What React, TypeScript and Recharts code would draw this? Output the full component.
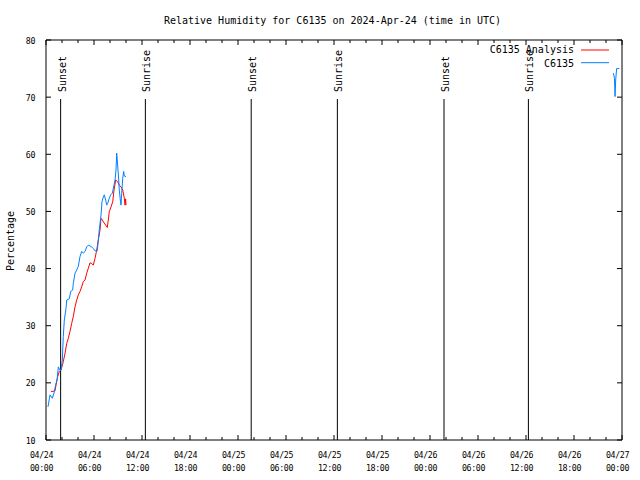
import React from 'react';
import { LineChart, Line, XAxis, YAxis, ReferenceLine, Legend } from 'recharts';

const FONT = '"DejaVu Sans Mono", monospace';

// Axis ticks
const xTickHours = [0, 2, 4, 6, 8, 10, 12, 14, 16, 18, 20, 22, 24, 26, 28, 30, 32, 34, 36, 38, 40, 42, 44, 46, 48, 50, 52, 54, 56, 58, 60, 62, 64, 66, 68, 70, 72];
const xLabelDates = ['04/24', '04/24', '04/24', '04/24', '04/25', '04/25', '04/25', '04/25', '04/26', '04/26', '04/26', '04/26', '04/27'];
const xLabelTimes = ['00:00', '06:00', '12:00', '18:00', '00:00', '06:00', '12:00', '18:00', '00:00', '06:00', '12:00', '18:00', '00:00'];
const yTicks = [10, 20, 30, 40, 50, 60, 70, 80];

// Sun events (hours since 04/24 00:00 UTC)
const sunsetHours = [1.83, 25.65, 49.75];
const sunriseHours = [12.42, 36.42, 60.3];

// C6135 Analysis (red)
const analysisHours = [0.63, 1.13, 1.25, 1.46, 1.66, 1.88, 2.16, 2.38, 2.59, 2.79, 3.0, 3.21, 3.41, 3.63, 3.84, 4.04, 4.25, 4.46, 4.66, 4.88, 5.09, 5.29, 5.5, 5.71, 5.91, 6.13, 6.34, 6.54, 6.75, 6.88, 7.04, 7.25, 7.46, 7.66, 7.79, 7.91, 8.13, 8.34, 8.5, 8.71, 8.96, 9.16, 9.38, 9.59, 9.79, 9.88, 9.95, 10.0];
const analysisValues = [18.45, 18.6, 19.6, 21.1, 22.0, 22.25, 23.7, 25.2, 26.9, 27.8, 29.0, 30.4, 31.6, 33.3, 34.5, 35.4, 36.0, 36.8, 37.7, 38.0, 39.2, 40.05, 41.0, 40.9, 40.6, 41.8, 43.25, 45.0, 46.75, 48.8, 48.5, 48.0, 47.6, 47.2, 48.5, 49.95, 50.8, 51.7, 53.75, 55.5, 55.2, 54.6, 54.3, 53.75, 52.3, 51.1, 52.2, 51.1];

// C6135 observations (blue), two segments
const obsEarlyHours = [0.25, 0.5, 0.79, 1.0, 1.2, 1.4, 1.54, 1.75, 1.88, 2.04, 2.16, 2.29, 2.5, 2.59, 2.91, 3.09, 3.34, 3.41, 3.63, 3.84, 4.04, 4.25, 4.46, 4.66, 4.88, 5.09, 5.29, 5.5, 5.71, 5.91, 6.13, 6.41, 6.54, 6.66, 6.88, 7.0, 7.16, 7.29, 7.46, 7.59, 7.71, 7.91, 8.09, 8.29, 8.5, 8.63, 8.75, 8.84, 8.91, 9.0, 9.09, 9.16, 9.29, 9.38, 9.46, 9.59, 9.71, 9.79, 10.0];
const obsEarlyValues = [15.8, 17.9, 17.3, 18.2, 19.6, 20.7, 22.8, 22.2, 22.2, 24.0, 28.1, 31.0, 33.0, 34.5, 34.7, 36.0, 36.25, 37.4, 39.2, 39.75, 40.4, 42.1, 43.0, 42.7, 43.0, 43.8, 44.1, 43.95, 43.8, 43.5, 43.1, 43.1, 45.0, 46.75, 49.4, 51.7, 52.5, 52.9, 52.0, 51.1, 51.4, 52.3, 52.9, 53.2, 54.6, 55.5, 57.25, 60.2, 59.0, 57.25, 55.5, 53.75, 52.0, 51.1, 53.2, 55.8, 57.0, 56.2, 56.1];
const obsLateHours = [70.92, 71.06, 71.13, 71.21, 71.33, 71.67];
const obsLateValues = [74.2, 73.3, 70.1, 73.0, 75.0, 75.0];

const analysisData = analysisHours.map((t, i) => ({ t, v: analysisValues[i] }));
const obsData = [
  ...obsEarlyHours.map((t, i) => ({ t, v: obsEarlyValues[i] as number | null })),
  { t: 40, v: null },
  ...obsLateHours.map((t, i) => ({ t, v: obsLateValues[i] as number | null })),
];

const TICK_FONT_SIZE = 8.3;
const TICK_SPACING = -0.4;

const BottomTick = (props: any) => {
  const { x, y, payload } = props;
  const v = payload.value as number;
  const major = v % 6 === 0;
  const i = Math.round(v / 6);
  return (
    <g>
      <line x1={x} x2={x} y1={y} y2={y - (major ? 5 : 3)} stroke="#000" strokeWidth={1} />
      {major && (
        <text textAnchor="middle" fontFamily={FONT} fontSize={TICK_FONT_SIZE} letterSpacing={TICK_SPACING} fill="#000">
          <tspan x={x - 4.5} y={y + 18}>{xLabelDates[i]}</tspan>
          <tspan x={x - 4.5} y={y + 31}>{xLabelTimes[i]}</tspan>
        </text>
      )}
    </g>
  );
};

const TopTick = (props: any) => {
  const { x, y, payload } = props;
  const major = (payload.value as number) % 6 === 0;
  return <line x1={x} x2={x} y1={y} y2={y + (major ? 5 : 3)} stroke="#000" strokeWidth={1} />;
};

const LeftTick = (props: any) => {
  const { x, y, payload } = props;
  return (
    <g>
      <line x1={x} x2={x + 5} y1={y} y2={y} stroke="#000" strokeWidth={1} />
      <text x={x - 11} y={y + 3.5} textAnchor="end" fontFamily={FONT} fontSize={TICK_FONT_SIZE} letterSpacing={TICK_SPACING} fill="#000">
        {payload.value}
      </text>
    </g>
  );
};

const RightTick = (props: any) => {
  const { x, y } = props;
  return <line x1={x} x2={x - 5} y1={y} y2={y} stroke="#000" strokeWidth={1} />;
};

const TitleLabel = () => (
  <text x={332.5} y={24} textAnchor="middle" fontFamily={FONT} fontSize={10} fill="#000">
    Relative Humidity for C6135 on 2024-Apr-24 (time in UTC)
  </text>
);

const YTitle = () => (
  <text x={14} y={241} transform="rotate(-90 14 241)" textAnchor="middle" fontFamily={FONT} fontSize={10} fill="#000">
    Percentage
  </text>
);

const sunLabel = (text: string) => (props: any) => {
  const vb = props && props.viewBox;
  if (!vb) return null;
  const x = vb.x + 5;
  const y = vb.y - 7;
  return (
    <text x={x} y={y} transform={`rotate(-90 ${x} ${y})`} fontFamily={FONT} fontSize={10} fill="#000">
      {text}
    </text>
  );
};

const LegendBox = () => (
  <svg width={140} height={32} style={{ display: 'block' }}>
    <text x={94} y={13.3} textAnchor="end" fontFamily={FONT} fontSize={10} fill="#000">C6135 Analysis</text>
    <line x1={101} x2={129} y1={10} y2={10} stroke="#ff0000" strokeWidth={1} />
    <text x={94} y={26.7} textAnchor="end" fontFamily={FONT} fontSize={10} fill="#000">C6135</text>
    <line x1={101} x2={129} y1={22.7} y2={22.7} stroke="#0080ff" strokeWidth={1} />
  </svg>
);

const axisLineStyle = { stroke: '#000', strokeWidth: 1 };

export default function App() {
  return (
    <div style={{ position: 'absolute', left: 0, top: 0, width: 640, height: 480, background: '#fff' }}>
      <LineChart width={640} height={480} margin={{ top: 39, right: 17, bottom: 39, left: 0 }}>
        <XAxis
          xAxisId="bottom"
          dataKey="t"
          type="number"
          domain={[0, 72]}
          allowDataOverflow
          ticks={xTickHours}
          interval={0}
          height={1}
          tickSize={0}
          tickMargin={0}
          tickLine={false}
          tick={<BottomTick />}
          axisLine={axisLineStyle}
          stroke="#000"
          orientation="bottom"
        />
        <XAxis
          xAxisId="top"
          dataKey="t"
          type="number"
          domain={[0, 72]}
          allowDataOverflow
          ticks={xTickHours}
          interval={0}
          height={1}
          tickSize={0}
          tickMargin={0}
          tickLine={false}
          tick={<TopTick />}
          axisLine={axisLineStyle}
          stroke="#000"
          orientation="top"
          label={TitleLabel}
        />
        <YAxis
          yAxisId="left"
          type="number"
          domain={[10, 80]}
          allowDataOverflow
          ticks={yTicks}
          interval={0}
          width={46}
          tickSize={0}
          tickMargin={0}
          tickLine={false}
          tick={<LeftTick />}
          axisLine={axisLineStyle}
          stroke="#000"
          orientation="left"
          label={YTitle}
        />
        <YAxis
          yAxisId="right"
          type="number"
          domain={[10, 80]}
          allowDataOverflow
          ticks={yTicks}
          interval={0}
          width={1}
          tickSize={0}
          tickMargin={0}
          tickLine={false}
          tick={<RightTick />}
          axisLine={axisLineStyle}
          stroke="#000"
          orientation="right"
        />
        {sunsetHours.map((h) => (
          <ReferenceLine
            key={`ss${h}`}
            xAxisId="bottom"
            yAxisId="left"
            segment={[{ x: h, y: 69.67 }, { x: h, y: 10 }]}
            stroke="#000"
            strokeWidth={1}
            label={sunLabel('Sunset')}
          />
        ))}
        {sunriseHours.map((h) => (
          <ReferenceLine
            key={`sr${h}`}
            xAxisId="bottom"
            yAxisId="left"
            segment={[{ x: h, y: 69.67 }, { x: h, y: 10 }]}
            stroke="#000"
            strokeWidth={1}
            label={sunLabel('Sunrise')}
          />
        ))}
        <Line
          xAxisId="bottom"
          yAxisId="left"
          data={analysisData}
          dataKey="v"
          name="C6135 Analysis"
          type="linear"
          stroke="#ff0000"
          strokeWidth={1}
          dot={false}
          activeDot={false}
          isAnimationActive={false}
        />
        <Line
          xAxisId="bottom"
          yAxisId="left"
          data={obsData}
          dataKey="v"
          name="C6135"
          type="linear"
          stroke="#0080ff"
          strokeWidth={1}
          dot={false}
          activeDot={false}
          connectNulls={false}
          isAnimationActive={false}
        />
        <Legend
          layout="horizontal"
          verticalAlign="middle"
          align="center"
          content={LegendBox}
          wrapperStyle={{ position: 'absolute', top: 40, left: 480, width: 140, height: 32 }}
        />
      </LineChart>
    </div>
  );
}
